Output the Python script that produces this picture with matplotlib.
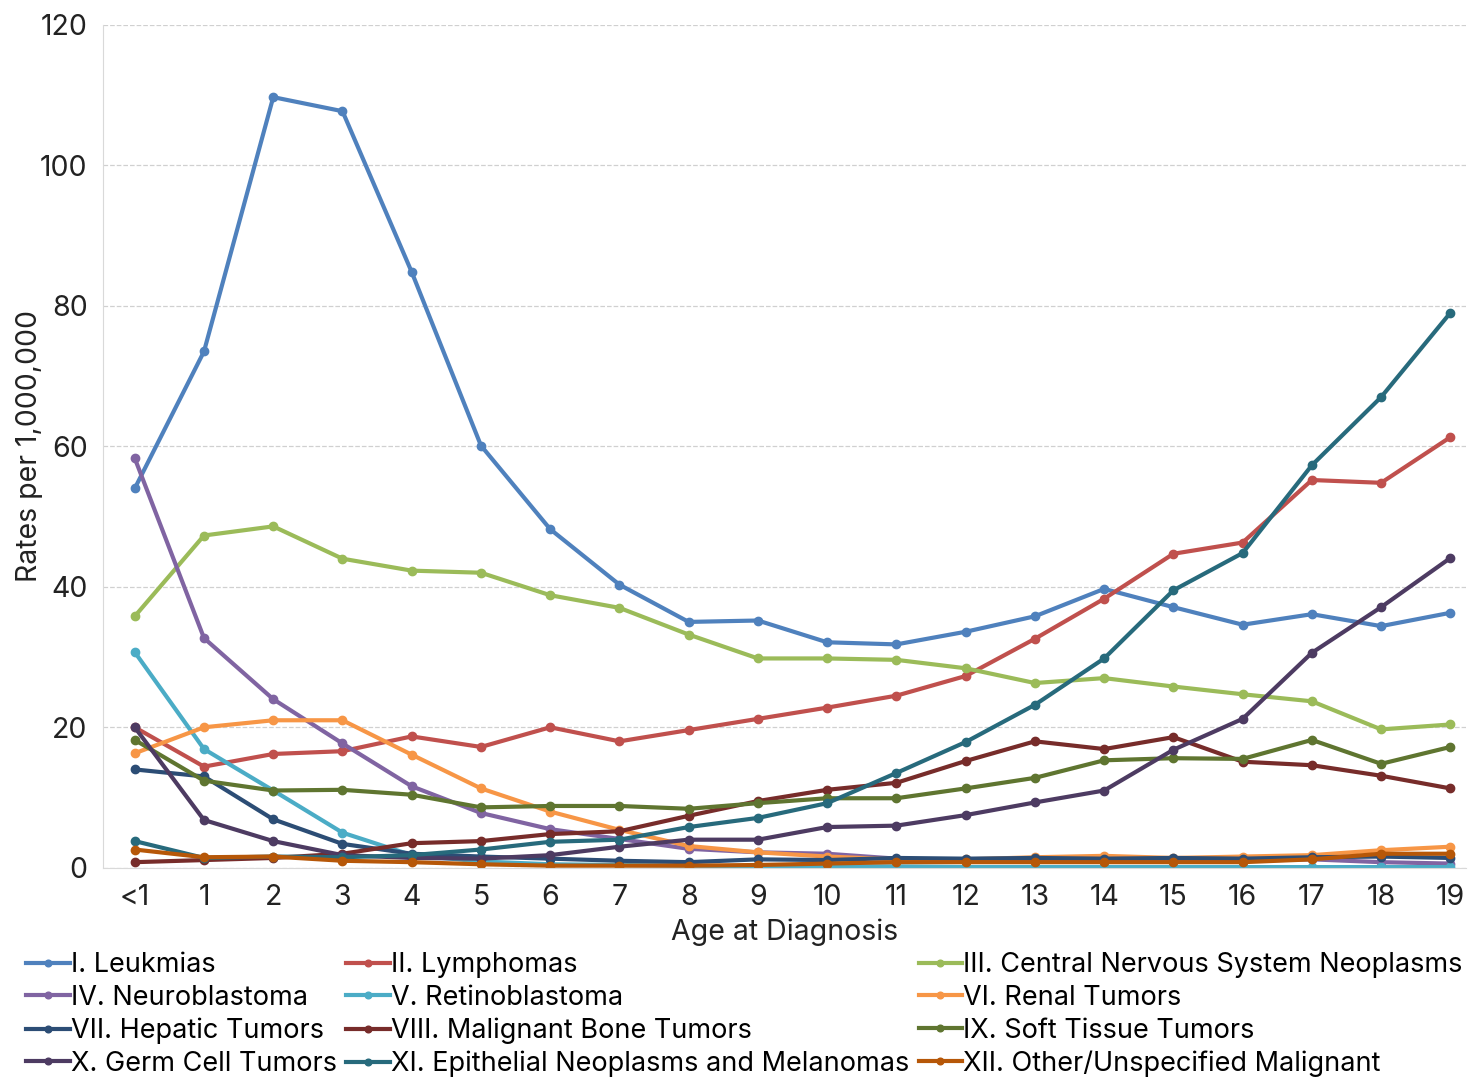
import matplotlib.pyplot as plt

plt.rcParams['font.family'] = ['Inter', 'DejaVu Sans']

ages = ['<1'] + [str(i) for i in range(1, 20)]

leukemias = [54, 73.5, 109.7, 107.7, 84.8, 60.1, 48.2, 40.3, 35, 35.2, 32.1, 31.8, 33.6, 35.8, 39.7, 37.1, 34.6, 36.1, 34.4, 36.3]
lymphomas = [20, 14.4, 16.2, 16.6, 18.7, 17.2, 20, 18, 19.6, 21.2, 22.8, 24.5, 27.3, 32.6, 38.3, 44.7, 46.3, 55.2, 54.8, 61.3]
cns = [35.8, 47.3, 48.6, 44, 42.3, 42, 38.8, 37, 33.2, 29.8, 29.8, 29.6, 28.4, 26.3, 27, 25.8, 24.7, 23.7, 19.7, 20.4]
neuroblastoma = [58.3, 32.7, 24, 17.7, 11.6, 7.8, 5.5, 4.1, 2.7, 2.2, 2, 1.3, 1, 1, 1, 1, 1, 1.2, 0.8, 0.6]
retinoblastoma = [30.7, 16.9, 11, 5, 1.8, 0.9, 0.5, 0.4, 0.3, 0.2, 0.2, 0.2, 0.1, 0.1, 0.1, 0.1, 0.1, 0.1, 0.1, 0.1]
renal = [16.3, 20, 21, 21, 16.1, 11.3, 8, 5.4, 3.1, 2.2, 1.6, 1.2, 1.2, 1.5, 1.7, 1.4, 1.6, 1.8, 2.5, 3.0]
hepatic = [14, 13, 6.9, 3.4, 2, 1.6, 1.3, 1, 0.8, 1.2, 1.1, 1.4, 1.3, 1.4, 1.3, 1.4, 1.3, 1.5, 1.6, 1.4]
bone = [0.8, 1.1, 1.4, 2, 3.5, 3.8, 4.8, 5.2, 7.4, 9.5, 11.1, 12.1, 15.2, 18, 16.9, 18.6, 15.1, 14.6, 13.1, 11.3]
soft_tissue = [18.2, 12.4, 11, 11.1, 10.4, 8.6, 8.8, 8.8, 8.4, 9.2, 9.9, 9.9, 11.3, 12.8, 15.3, 15.6, 15.5, 18.2, 14.8, 17.2]
germ_cell = [20, 6.8, 3.8, 1.8, 1.4, 1.3, 1.8, 3, 4, 4, 5.8, 6, 7.5, 9.3, 11, 16.8, 21.2, 30.6, 37.1, 44.1]
epithelial = [3.8, 1.4, 1.6, 1.5, 1.8, 2.6, 3.7, 4, 5.8, 7.1, 9.2, 13.5, 17.9, 23.2, 29.8, 39.5, 44.8, 57.3, 67, 79]
other = [2.6, 1.5, 1.6, 1, 0.8, 0.5, 0.3, 0.3, 0.3, 0.4, 0.6, 0.8, 0.8, 0.8, 0.8, 0.8, 0.8, 1.2, 2, 2]

series = [
    ("I. Leukmias", leukemias, "#4f81bd"),
    ("II. Lymphomas", lymphomas, "#c0504d"),
    ("III. Central Nervous System Neoplasms", cns, "#9bbb59"),
    ("IV. Neuroblastoma", neuroblastoma, "#8064a2"),
    ("V. Retinoblastoma", retinoblastoma, "#4bacc6"),
    ("VI. Renal Tumors", renal, "#f79646"),
    ("VII. Hepatic Tumors", hepatic, "#2c4d75"),
    ("VIII. Malignant Bone Tumors", bone, "#772c2a"),
    ("IX. Soft Tissue Tumors", soft_tissue, "#5f7530"),
    ("X. Germ Cell Tumors", germ_cell, "#4d3b62"),
    ("XI. Epithelial Neoplasms and Melanomas", epithelial, "#276a7c"),
    ("XII. Other/Unspecified Malignant", other, "#b65708"),
]

fig, ax = plt.subplots(figsize=(14.7, 10.78), dpi=100)
fig.subplots_adjust(left=0.07, right=0.997, top=0.977, bottom=0.195)

x = list(range(len(ages)))
handles = []
for name, vals, col in series:
    h, = ax.plot(x, vals, color=col, lw=3.0, marker='o', ms=6, label=name)
    handles.append(h)

ax.set_ylim(0, 120)
ax.set_yticks(range(0, 121, 20))
ax.set_xlim(-0.46, 19.22)
ax.set_xticks(x)
ax.set_xticklabels(ages)
ax.tick_params(axis='both', length=0, labelsize=20.5, colors='#222222')
ax.tick_params(axis='x', pad=12)
ax.tick_params(axis='y', pad=11)
ax.grid(axis='y', ls='--', color='#d0d0d0', lw=0.9)
ax.set_axisbelow(True)
for s in ['top', 'right']:
    ax.spines[s].set_visible(False)
ax.spines['left'].set_color('#d9d9d9')
ax.spines['bottom'].set_color('#d9d9d9')
ax.set_xlabel("Age at Diagnosis", fontsize=20.5, color='#222222', labelpad=5)
ax.set_ylabel("Rates per 1,000,000", fontsize=20.5, color='#222222', labelpad=-2)

order = [0, 3, 6, 9, 1, 4, 7, 10, 2, 5, 8, 11]
fig.legend([handles[i] for i in order], [series[i][0] for i in order],
           loc='lower left', bbox_to_anchor=(0.016, -0.002), ncol=3, frameon=False,
           fontsize=19.5, handlelength=1.6, handletextpad=0.05, columnspacing=0.35,
           labelspacing=0.25, borderpad=0.1, borderaxespad=0, markerscale=0.8)

fig.savefig("out.png")
